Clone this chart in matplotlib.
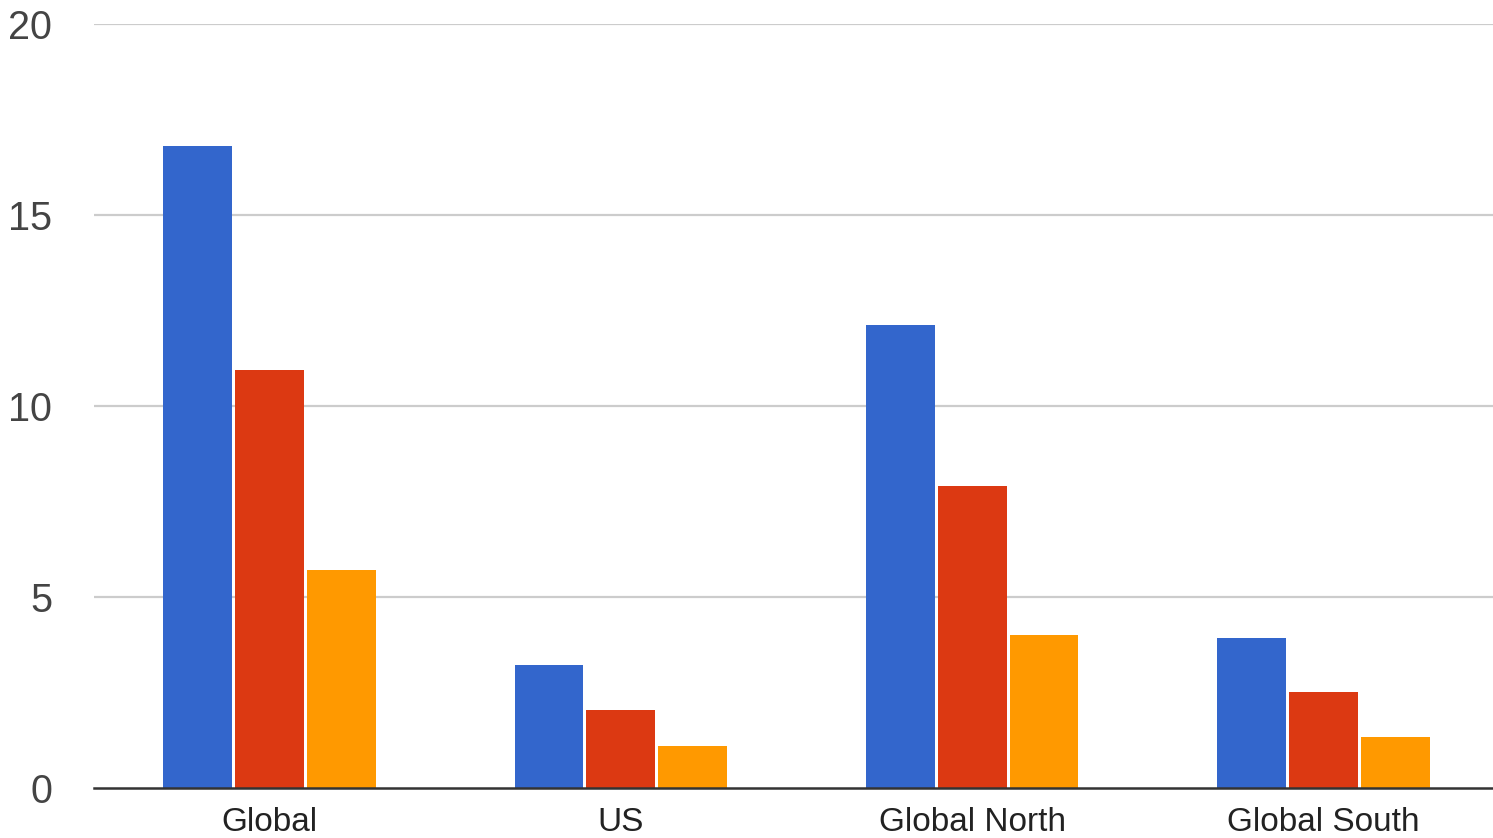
import numpy as np
import matplotlib.pyplot as plt

plt.rcParams['font.family'] = ['Liberation Sans', 'DejaVu Sans']

regions = ['Global', 'US', 'Global North', 'Global South']
series_a = [16.8, 3.22, 12.12, 3.93]
series_b = [10.95, 2.04, 7.9, 2.51]
series_c = [5.7, 1.1, 4.0, 1.34]
colors = ['#3366CC', '#DC3912', '#FF9900']
yticks = [0, 5, 10, 15, 20]

fig = plt.figure(figsize=(14.93, 8.38), dpi=100)
ax = fig.add_axes([94 / 1493, 50 / 838, 1405 / 1493, 764 / 838])

x = np.arange(len(regions))
width = 0.196
step = 0.2045
for i, (vals, c) in enumerate(zip([series_a, series_b, series_c], colors)):
    ax.bar(x + (i - 1) * step, vals, width=width, color=c, zorder=3)

ax.set_xlim(-0.5, len(regions) - 0.5)
ax.set_ylim(0, 20)
ax.set_yticks(yticks)
ax.set_yticklabels([str(t) for t in yticks])
ax.set_xticks(x)
ax.set_xticklabels(regions)

for t in yticks[1:]:
    ax.axhline(t, color='#cccccc', lw=1.6, zorder=1)
ax.axhline(0, color='#333333', lw=1.8, zorder=4, clip_on=False)

for s in ax.spines.values():
    s.set_visible(False)
ax.tick_params(axis='y', length=0, pad=30, labelsize=28.5, labelcolor='#444444')
ax.tick_params(axis='x', length=0, pad=14, labelsize=24, labelcolor='#222222')

fig.savefig('out.png', dpi=100)
